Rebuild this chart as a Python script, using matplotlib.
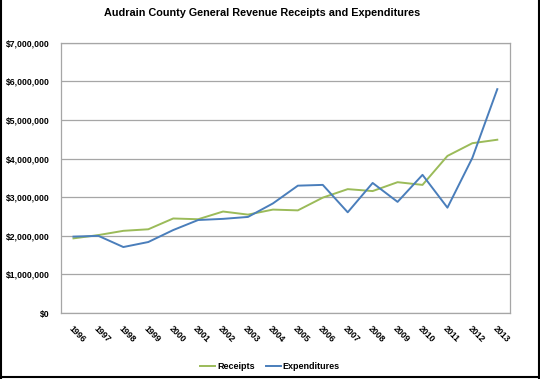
import matplotlib
matplotlib.use("Agg")
import matplotlib.pyplot as plt
from matplotlib.lines import Line2D
from matplotlib.ticker import FuncFormatter

plt.rcParams['font.family'] = ['Liberation Sans', 'DejaVu Sans']

years = ['1996', '1997', '1998', '1999', '2000', '2001', '2002', '2003', '2004',
         '2005', '2006', '2007', '2008', '2009', '2010', '2011', '2012', '2013']
receipts = [1935000, 2020000, 2130000, 2170000, 2450000, 2430000, 2630000, 2550000, 2680000,
            2660000, 2990000, 3210000, 3160000, 3390000, 3320000, 4070000, 4400000, 4490000]
expenditures = [1980000, 2000000, 1710000, 1840000, 2150000, 2410000, 2440000, 2490000, 2840000,
                3300000, 3320000, 2610000, 3370000, 2880000, 3580000, 2730000, 4020000, 5800000]

fig = plt.figure(figsize=(5.4, 3.79), dpi=100)
ax = fig.add_axes([0.113, 0.174, 0.831, 0.713])

x = list(range(len(years)))
ax.plot(x, receipts, color='#9BBB59', lw=1.4, label='Receipts')
ax.plot(x, expenditures, color='#4A7EBB', lw=1.4, label='Expenditures')

ax.set_xlim(-0.5, len(years) - 0.5)
ax.set_ylim(0, 7000000)
ax.set_yticks(range(0, 7000001, 1000000))
ax.yaxis.set_major_formatter(FuncFormatter(lambda v, p: '${:,.0f}'.format(v)))
ax.grid(axis='y', color='#a6a6a6', lw=0.9)
ax.set_axisbelow(True)
for s in ax.spines.values():
    s.set_color('#a6a6a6')
    s.set_linewidth(0.9)
ax.tick_params(axis='both', length=0)
ax.tick_params(axis='y', pad=8, labelsize=6.2)
for lab in ax.get_yticklabels():
    lab.set_fontweight('bold')
ax.set_xticks(x)
ax.set_xticklabels(years, rotation=-45, ha='left', va='top', rotation_mode='anchor',
                   fontsize=6.3, fontweight='bold')
ax.tick_params(axis='x', pad=8)

fig.text(0.486, 0.965, 'Audrain County General Revenue Receipts and Expenditures',
         ha='center', va='center', fontsize=7.8, fontweight='bold')

leg = fig.legend(loc='center', bbox_to_anchor=(0.5, 0.032), ncol=2, frameon=False,
                 prop={'size': 6.5, 'weight': 'bold'}, handlelength=1.7, handletextpad=0.2,
                 columnspacing=1.2)

# outer frame (left, right, bottom)
fig.add_artist(Line2D([0.002, 0.002], [0, 1], color='black', lw=1.5, transform=fig.transFigure))
fig.add_artist(Line2D([0.998, 0.998], [0, 1], color='black', lw=1.5, transform=fig.transFigure))
fig.add_artist(Line2D([0, 1], [0.006, 0.006], color='black', lw=1.5, transform=fig.transFigure))

fig.savefig('out.png', dpi=100)
